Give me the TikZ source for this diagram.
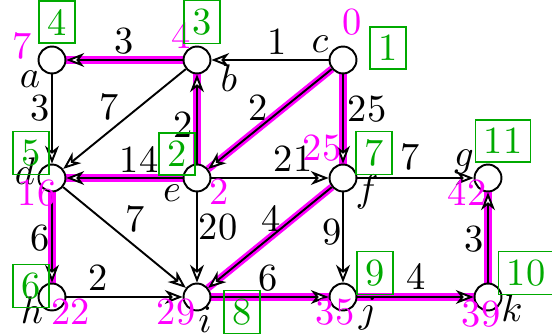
\documentclass[tikz,border=0pt]{standalone}
\usetikzlibrary{arrows.meta,backgrounds}
\definecolor{mag}{RGB}{255,0,255}
\definecolor{grn}{RGB}{0,170,0}
\begin{document}
\begin{tikzpicture}[x=0.26pt,y=-0.26pt,
  vx/.style={circle,draw,fill=white,line width=0.5pt,minimum size=7pt,inner sep=0pt},
  edg/.style={line width=0.5pt,-{Stealth[fill=white,length=4.6pt,width=3.6pt,inset=1.4pt]}},
  hl/.style={edg,preaction={draw=mag,line width=1.9pt,-}},
  wt/.style={inner sep=0pt},
  dist/.style={text=mag,inner sep=0pt},
  nm/.style={inner sep=0pt},
  ord/.style={draw=grn,text=grn,line width=0.4pt,inner xsep=2.2pt,inner ysep=2.1pt}]
\useasboundingbox (0,0) rectangle (552,336);
% vertices
\node[vx] (a) at (52,60) {};
\node[vx] (b) at (197,60) {};
\node[vx] (c) at (343,60) {};
\node[vx] (d) at (52,178) {};
\node[vx] (e) at (197,178) {};
\node[vx] (f) at (343,178) {};
\node[vx] (g) at (488,178) {};
\node[vx] (h) at (52,297) {};
\node[vx] (i) at (197,297) {};
\node[vx] (j) at (343,297) {};
\node[vx] (k) at (488,297) {};
% edges
\begin{scope}[on background layer]
\draw[hl] (b) -- (a);
\draw[edg] (c) -- (b);
\draw[edg] (a) -- (d);
\draw[edg] (b) -- (d);
\draw[hl] (e) -- (b);
\draw[hl] (c) -- (e);
\draw[hl] (c) -- (f);
\draw[hl] (e) -- (d);
\draw[edg] (e) -- (f);
\draw[edg] (f) -- (g);
\draw[hl] (d) -- (h);
\draw[edg] (d) -- (i);
\draw[edg] (e) -- (i);
\draw[hl] (f) -- (i);
\draw[edg] (h) -- (i);
\draw[edg] (f) -- (j);
\draw[hl] (i) -- (j);
\draw[hl] (j) -- (k);
\draw[hl] (k) -- (g);
\end{scope}
% weights
\node[wt] (wba) at (124,41) {3};
\node[wt] (wcb) at (277,42) {1};
\node[wt] (wad) at (40,108) {3};
\node[wt] (wbd) at (109,107) {7};
\node[wt] (web) at (183,125) {2};
\node[wt] (wce) at (258,108) {2};
\node[wt] (wcf) at (367,109) {25};
\node[wt] (wed) at (139,159) {14};
\node[wt] (wef) at (293,159) {21};
\node[wt] (wfg) at (410,157) {7};
\node[wt] (wdh) at (40,238) {6};
\node[wt] (wdi) at (135,219) {7};
\node[wt] (wei) at (218,227) {20};
\node[wt] (wfi) at (271,218) {4};
\node[wt] (whi) at (98,278) {2};
\node[wt] (wfj) at (332,232) {9};
\node[wt] (wij) at (268,278) {6};
\node[wt] (wjk) at (416,276) {4};
\node[wt] (wkg) at (474,239) {3};
% names
\node[nm] (na) at (30,79) {$a$};
\node[nm] (nb) at (229,78) {$b$};
\node[nm] (nc) at (320,44) {$c$};
\node[nm] (nd) at (25,171) {$d$};
\node[nm] (ne) at (172,193) {$e$};
\node[nm] (nf) at (367,192) {$f$};
\node[nm] (ng) at (464,162) {$g$};
\node[nm] (nh) at (32,310) {$h$};
\node[nm] (ni) at (205,320) {$i$};
\node[nm] (nj) at (368,314) {$j$};
\node[nm] (nk) at (512,308) {$k$};
% distances
\node[dist] (da) at (22,46) {7};
\node[dist] (db) at (181,35) {4};
\node[dist] (dc) at (352,22) {0};
\node[dist] (dd) at (37,193) {16};
\node[dist] (de) at (219,192) {2};
\node[dist] (df) at (322,148) {25};
\node[dist] (dg) at (467,192) {42};
\node[dist] (dh) at (71,312) {22};
\node[dist] (di) at (176,312) {29};
\node[dist] (dj) at (335,312) {35};
\node[dist] (dk) at (481,314) {39};
% order boxes
\node[ord] (oa) at (57,22) {4};
\node[ord] (ob) at (202,22) {3};
\node[ord] (oc) at (388,48) {1};
\node[ord] (od) at (31,153) {5};
\node[ord] (oe) at (177,154) {2};
\node[ord] (of) at (374,153) {7};
\node[ord] (og) at (503,141) {11};
\node[ord] (oh) at (31,286) {6};
\node[ord] (oi) at (242,312) {8};
\node[ord] (oj) at (375,273) {9};
\node[ord] (ok) at (526,273) {10};
\end{tikzpicture}
\end{document}
